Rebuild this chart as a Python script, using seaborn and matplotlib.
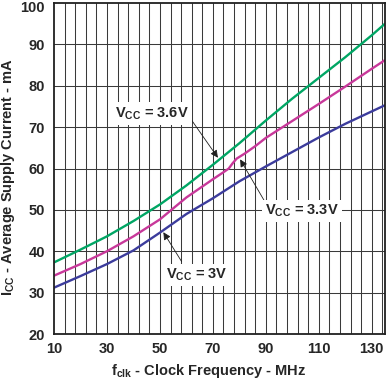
import numpy as np
import pandas as pd
import matplotlib
matplotlib.use('Agg')
import matplotlib.pyplot as plt
import matplotlib.transforms as mtransforms
import seaborn as sns

# values (MHz, mA)
freq_36 = [10, 20, 30, 40, 50, 60, 70, 80, 90, 100, 110, 120, 130, 135]
icc_36 = [37.3, 40.4, 43.6, 47.3, 51.3, 55.9, 60.9, 66.1, 71.6, 76.9, 81.9, 86.9, 92.2, 95.0]

freq_33 = [10, 20, 30, 40, 50, 60, 70, 74, 76, 77.5, 79, 82, 86, 90, 100, 110, 120, 130, 135]
icc_33 = [34.1, 36.9, 40.0, 43.6, 47.7, 53.0, 57.4, 59.1, 60.0, 61.3, 62.4, 63.6, 65.4, 67.4,
          71.5, 75.6, 79.8, 84.1, 86.2]

freq_30 = [10, 20, 30, 40, 50, 60, 70, 80, 90, 100, 110, 120, 130, 135]
icc_30 = [31.2, 34.0, 36.9, 40.2, 44.5, 49.0, 52.8, 56.9, 60.5, 64.0, 67.5, 70.8, 73.8, 75.3]

series_names = ['VCC = 3.6V', 'VCC = 3.3V', 'VCC = 3V']
line_colors = ['#00a664', '#c8389a', '#3c3c9c']

x_ticks = [10, 30, 50, 70, 90, 110, 130]
y_ticks = [20, 30, 40, 50, 60, 70, 80, 90, 100]

rows = []
for name, fs, vals in zip(series_names, [freq_36, freq_33, freq_30], [icc_36, icc_33, icc_30]):
    for f, v in zip(fs, vals):
        rows.append({'freq': f, 'icc': v, 'supply': name})
df = pd.DataFrame(rows)

sns.set_theme(style='white')
plt.rcParams['font.family'] = ['Liberation Sans', 'DejaVu Sans']
plt.rcParams['mathtext.fontset'] = 'custom'
plt.rcParams['mathtext.rm'] = 'Liberation Sans:bold'
plt.rcParams['mathtext.bf'] = 'Liberation Sans:bold'
plt.rcParams['mathtext.it'] = 'Liberation Sans:bold'

fig = plt.figure(figsize=(3.86, 3.89), dpi=100)
ax = fig.add_axes([54 / 386, 55 / 389, 331 / 386, 331 / 389])

# grid: vertical every 4 MHz, horizontal every 10 mA
for gx in np.arange(14, 135, 4):
    ax.axvline(gx, color='#3a3a3a', lw=0.75, zorder=1)
for gy in y_ticks[1:-1]:
    ax.axhline(gy, color='#3a3a3a', lw=0.75, zorder=1)

sns.lineplot(data=df, x='freq', y='icc', hue='supply', palette=line_colors,
             hue_order=series_names, lw=1.7, legend=False, sort=True, ax=ax, zorder=3)

ax.set_xlim(10, 135)
ax.set_ylim(20, 100)
ax.set_xticks(x_ticks)
ax.set_yticks(y_ticks)
ax.tick_params(length=0, labelsize=10.5)
ax.tick_params(axis='x', pad=5.5)
ax.tick_params(axis='y', pad=6.5)
for lbl in ax.get_xticklabels() + ax.get_yticklabels():
    lbl.set_fontweight('bold')
# the top label sits a little lower so it stays inside the figure
top_lbl = ax.get_yticklabels()[-1]
top_lbl.set_transform(top_lbl.get_transform() +
                      mtransforms.ScaledTranslation(0, -2.5 / 72, fig.dpi_scale_trans))
for sp in ax.spines.values():
    sp.set_color('#202020')
    sp.set_linewidth(1.3)
    sp.set_zorder(4)

ax.set_xlabel(r'$\mathregular{f_{clk}}$ - Clock Frequency - MHz', fontsize=10.5, fontweight='bold')
ax.set_ylabel(r'$\mathregular{I_{CC}}$ - Average Supply Current - mA', fontsize=10.5, fontweight='bold')
ax.xaxis.set_label_coords(0.468, -0.084)
ax.yaxis.set_label_coords(-0.113, 0.474)

box = dict(boxstyle='square,pad=0.2', fc='white', ec='none')
arrow = dict(arrowstyle='-|>', color='#202020', lw=0.6, mutation_scale=11, shrinkA=0, shrinkB=0)
notes = [
    (r'$\mathregular{V_{CC}}$ = 3.6V', (71.9, 62.6), (47.0, 73.3), (61.4, 72.2)),
    (r'$\mathregular{V_{CC}}$ = 3.3V', (80.3, 62.2), (103.7, 49.7), (89.7, 51.9)),
    (r'$\mathregular{V_{CC}}$ = 3V', (51.3, 44.6), (64.0, 34.3), (58.2, 37.5)),
]
for text, head, pos, tail in notes:
    ax.annotate('', xy=head, xytext=tail, arrowprops=arrow, zorder=5)
    ax.text(pos[0], pos[1], text, fontsize=10.5, fontweight='bold', ha='center', va='center',
            bbox=box, zorder=6)

fig.savefig('out.png', dpi=100)
